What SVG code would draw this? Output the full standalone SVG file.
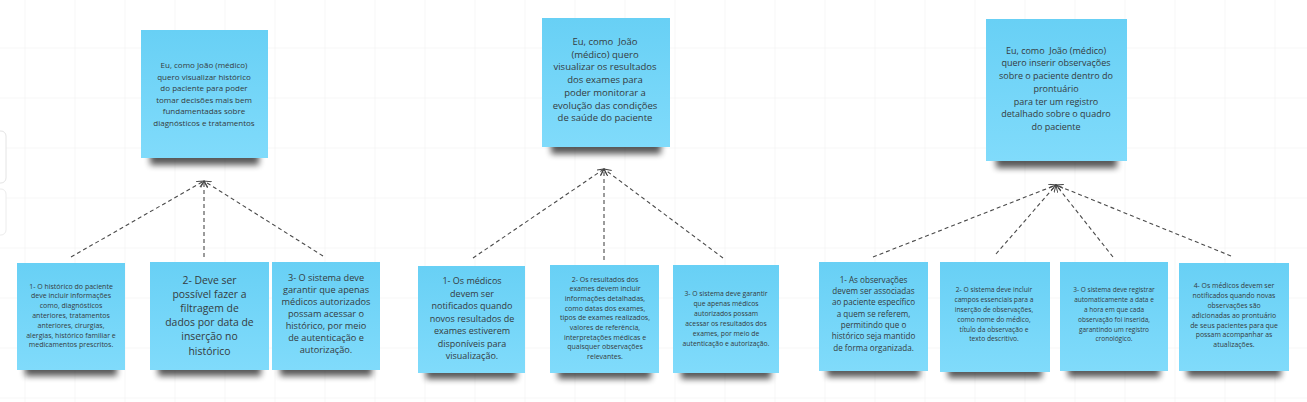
<svg xmlns="http://www.w3.org/2000/svg" width="1307" height="402" viewBox="0 0 1307 402">
<defs>
<linearGradient id="noteFill" x1="0" y1="0" x2="0" y2="1">
<stop offset="0" stop-color="#68d0f5"/>
<stop offset="1" stop-color="#80dbfb"/>
</linearGradient>
<filter id="blur" x="-20%" y="-100%" width="140%" height="300%">
<feGaussianBlur stdDeviation="3"/>
</filter>
<pattern id="grid" x="24.5" y="47.5" width="50" height="50" patternUnits="userSpaceOnUse">
<path d="M0,0 H50 M0,0 V50" stroke="#eeeeee" stroke-width="1" fill="none"/>
</pattern>
<marker id="arr" markerUnits="userSpaceOnUse" markerWidth="9" markerHeight="9" refX="7" refY="3.5" orient="auto">
<path d="M0,0 L7,3.5 L0,7" fill="none" stroke="#444" stroke-width="1"/>
</marker>
</defs>
<style>
.note{fill:url(#noteFill)}
.shadow{fill:#000;opacity:.65;filter:url(#blur)}
.t{font-family:"Open Sans","Noto Sans","DejaVu Sans",sans-serif;fill:#353b40;text-anchor:middle;white-space:pre}
.c{fill:none;stroke:#4a4a4a;stroke-width:1.1;stroke-dasharray:4 3;marker-end:url(#arr)}
</style>
<rect width="1307" height="402" fill="#ffffff"/>
<rect width="1307" height="402" fill="url(#grid)"/>
<g id="side-panel">
<rect x="-12" y="131" width="18" height="52" rx="5" fill="#fff" stroke="#e4e4e4"/>
<rect x="-12" y="189" width="18" height="46" rx="5" fill="#fff" stroke="#ececec"/>
</g>

<g id="connectors">
<line class="c" x1="71" y1="257" x2="204" y2="181"/>
<line class="c" x1="204" y1="257" x2="204" y2="181"/>
<line class="c" x1="323" y1="256" x2="204" y2="181"/>
<line class="c" x1="473" y1="258" x2="604" y2="169"/>
<line class="c" x1="604" y1="260" x2="604" y2="169"/>
<line class="c" x1="723" y1="258" x2="604" y2="169"/>
<line class="c" x1="873" y1="257" x2="1056" y2="185"/>
<line class="c" x1="996" y1="254" x2="1056" y2="185"/>
<line class="c" x1="1113" y1="257" x2="1056" y2="185"/>
<line class="c" x1="1231" y1="256" x2="1056" y2="185"/>
</g>

<g id="story-1">
<rect class="shadow" x="150" y="150" width="109" height="15"/>
<rect class="note" x="141" y="30" width="127" height="128"/>
<g class="t" font-size="8">
<text x="204" y="68">Eu, como João (médico)</text>
<text x="204" y="79.5">quero visualizar histórico</text>
<text x="204" y="91">do paciente para poder</text>
<text x="204" y="102.5">tomar decisões mais bem</text>
<text x="204" y="114">fundamentadas sobre</text>
<text x="204" y="125.5">diagnósticos e tratamentos</text>
</g>
</g>

<g id="story-2">
<rect class="shadow" x="551" y="139" width="110" height="15"/>
<rect class="note" x="542" y="18" width="128" height="129"/>
<g class="t" font-size="9.5">
<text x="605" y="45" xml:space="preserve">Eu, como  João</text>
<text x="605" y="57.7">(médico) quero</text>
<text x="605" y="70.4">visualizar os resultados</text>
<text x="605" y="83.1">dos exames para</text>
<text x="605" y="95.8">poder monitorar a</text>
<text x="605" y="108.5">evolução das condições</text>
<text x="605" y="121.2">de saúde do paciente</text>
</g>
</g>

<g id="story-3">
<rect class="shadow" x="996" y="153" width="121" height="15"/>
<rect class="note" x="986" y="19" width="141" height="142"/>
<g class="t" font-size="9">
<text x="1056" y="53.7" xml:space="preserve">Eu, como  João (médico)</text>
<text x="1056" y="66.4">quero inserir observações</text>
<text x="1056" y="79.1">sobre o paciente dentro do</text>
<text x="1056" y="91.8">prontuário</text>
<text x="1056" y="104.5">para ter um registro</text>
<text x="1056" y="117.2">detalhado sobre o quadro</text>
<text x="1056" y="129.9">do paciente</text>
</g>
</g>

<g id="req-1-1">
<rect class="shadow" x="25" y="362" width="92" height="14"/>
<rect class="note" x="17" y="263" width="108" height="107"/>
<g class="t" font-size="7">
<text x="71" y="288.5">1- O histórico do paciente</text>
<text x="71" y="298.3">deve incluir informações</text>
<text x="71" y="308.1">como, diagnósticos</text>
<text x="71" y="317.9">anteriores, tratamentos</text>
<text x="71" y="327.7">anteriores, cirurgias,</text>
<text x="71" y="337.5">alergias, histórico familiar e</text>
<text x="71" y="347.3">medicamentos prescritos.</text>
</g>
</g>

<g id="req-1-2">
<rect class="shadow" x="158" y="362" width="103" height="14"/>
<rect class="note" x="150" y="262" width="119" height="108"/>
<g class="t" font-size="10.4">
<text x="209.5" y="283.5">2- Deve ser</text>
<text x="209.5" y="297.7">possível fazer a</text>
<text x="209.5" y="311.9">filtragem de</text>
<text x="209.5" y="326.1">dados por data de</text>
<text x="209.5" y="340.3">inserção no</text>
<text x="209.5" y="354.5">histórico</text>
</g>
</g>

<g id="req-1-3">
<rect class="shadow" x="280" y="362" width="92" height="14"/>
<rect class="note" x="272" y="262" width="108" height="108"/>
<g class="t" font-size="9.2">
<text x="326" y="281">3- O sistema deve</text>
<text x="326" y="293">garantir que apenas</text>
<text x="326" y="305">médicos autorizados</text>
<text x="326" y="317">possam acessar o</text>
<text x="326" y="329">histórico, por meio</text>
<text x="326" y="341">de autenticação e</text>
<text x="326" y="353">autorização.</text>
</g>
</g>

<g id="req-2-1">
<rect class="shadow" x="426" y="365" width="91" height="14"/>
<rect class="note" x="418" y="266" width="107" height="107"/>
<g class="t" font-size="9">
<text x="472" y="284">1- Os médicos</text>
<text x="472" y="296.5">devem ser</text>
<text x="472" y="309">notificados quando</text>
<text x="472" y="321.5">novos resultados de</text>
<text x="472" y="334">exames estiverem</text>
<text x="472" y="346.5">disponíveis para</text>
<text x="472" y="359">visualização.</text>
</g>
</g>

<g id="req-2-2">
<rect class="shadow" x="558" y="365" width="93" height="14"/>
<rect class="note" x="550" y="265" width="109" height="108"/>
<g class="t" font-size="7">
<text x="605" y="281.5">2- Os resultados dos</text>
<text x="605" y="291.2">exames devem incluir</text>
<text x="605" y="300.9">informações detalhadas,</text>
<text x="605" y="310.6">como datas dos exames,</text>
<text x="605" y="320.3">tipos de exames realizados,</text>
<text x="605" y="330">valores de referência,</text>
<text x="605" y="339.7">interpretações médicas e</text>
<text x="605" y="349.4">quaisquer observações</text>
<text x="605" y="359.1">relevantes.</text>
</g>
</g>

<g id="req-2-3">
<rect class="shadow" x="681" y="365" width="90" height="14"/>
<rect class="note" x="673" y="265" width="106" height="108"/>
<g class="t" font-size="6.8">
<text x="726" y="295.5">3- O sistema deve garantir</text>
<text x="726" y="305.5">que apenas médicos</text>
<text x="726" y="315.5">autorizados possam</text>
<text x="726" y="325.5">acessar os resultados dos</text>
<text x="726" y="335.5">exames, por meio de</text>
<text x="726" y="345.5">autenticação e autorização.</text>
</g>
</g>

<g id="req-3-1">
<rect class="shadow" x="827" y="363" width="93" height="14"/>
<rect class="note" x="819" y="262" width="109" height="109"/>
<g class="t" font-size="8.1">
<text x="873.5" y="282.7">1- As observações</text>
<text x="873.5" y="294">devem ser associadas</text>
<text x="873.5" y="305.3">ao paciente específico</text>
<text x="873.5" y="316.6">a quem se referem,</text>
<text x="873.5" y="327.9">permitindo que o</text>
<text x="873.5" y="339.2">histórico seja mantido</text>
<text x="873.5" y="350.5">de forma organizada.</text>
</g>
</g>

<g id="req-3-2">
<rect class="shadow" x="948" y="364" width="94" height="14"/>
<rect class="note" x="940" y="262" width="110" height="110"/>
<g class="t" font-size="6.7">
<text x="994" y="292.3">2- O sistema deve incluir</text>
<text x="994" y="302.1">campos essenciais para a</text>
<text x="994" y="311.9">inserção de observações,</text>
<text x="994" y="321.7">como nome do médico,</text>
<text x="994" y="331.5">título da observação e</text>
<text x="994" y="341.3">texto descritivo.</text>
</g>
</g>

<g id="req-3-3">
<rect class="shadow" x="1068" y="363" width="92" height="14"/>
<rect class="note" x="1060" y="262" width="108" height="109"/>
<g class="t" font-size="6.5">
<text x="1114" y="292.3">3- O sistema deve registrar</text>
<text x="1114" y="302.1">automaticamente a data e</text>
<text x="1114" y="311.9">a hora em que cada</text>
<text x="1114" y="321.7">observação foi inserida,</text>
<text x="1114" y="331.5">garantindo um registro</text>
<text x="1114" y="341.3">cronológico.</text>
</g>
</g>

<g id="req-3-4">
<rect class="shadow" x="1187" y="363" width="94" height="14"/>
<rect class="note" x="1179" y="263" width="110" height="108"/>
<g class="t" font-size="6.9">
<text x="1234" y="288.3">4- Os médicos devem ser</text>
<text x="1234" y="298.1">notificados quando novas</text>
<text x="1234" y="307.9">observações são</text>
<text x="1234" y="317.7">adicionadas ao prontuário</text>
<text x="1234" y="327.5">de seus pacientes para que</text>
<text x="1234" y="337.3">possam acompanhar as</text>
<text x="1234" y="347.1">atualizações.</text>
</g>
</g>
</svg>
